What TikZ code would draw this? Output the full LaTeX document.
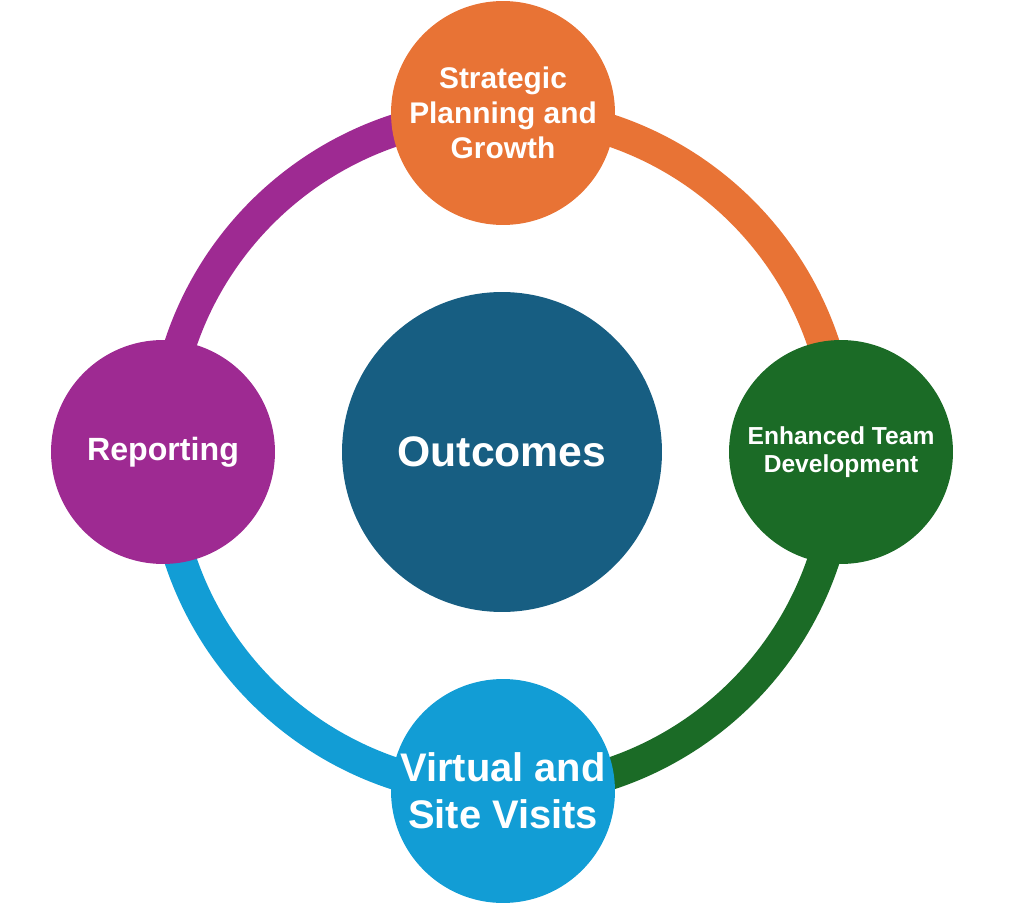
\documentclass[tikz,border=0pt]{standalone}
\usepackage{fontspec}
\setmainfont{Liberation Sans}
\usetikzlibrary{backgrounds}
\definecolor{cOrange}{HTML}{E87335}
\definecolor{cGreen}{HTML}{1B6B26}
\definecolor{cBlue}{HTML}{129DD5}
\definecolor{cPurple}{HTML}{9E2A92}
\definecolor{cNavy}{HTML}{175E82}
\begin{document}
\begin{tikzpicture}[x=0.02cm, y=-0.02cm,
  stage/.style={circle, inner sep=0pt, minimum size=4.48cm, text=white, font=\bfseries, align=center},
  ring/.style={line width=0.64cm}]
\useasboundingbox (0,0) rectangle (1020,915);
\node[circle, fill=cNavy, inner sep=0pt, minimum size=6.4cm, text=white, font=\fontsize{24.3}{29}\bfseries] (out) at (502,452) {Outcomes};
\node[stage, fill=cOrange, font=\fontsize{17}{20}\bfseries] (S_top) at (503,113) {Strategic\\Planning and\\Growth};
\node[stage, fill=cGreen, font=\fontsize{14}{15.9}\bfseries] (S_right) at (841,452) {Enhanced Team\\Development};
\node[stage, fill=cBlue, font=\fontsize{22.7}{26.7}\bfseries] (S_bottom) at (503,791) {Virtual and\\Site Visits};
\node[stage, fill=cPurple, font=\fontsize{18.3}{22}\bfseries] (S_left) at (163,452) {Reporting};
\begin{scope}[on background layer]
\draw[ring, cOrange] (S_top.center) to[out=0, in=90] (S_right.center);
\draw[ring, cGreen] (S_right.center) to[out=-90, in=0] (S_bottom.center);
\draw[ring, cBlue] (S_bottom.center) to[out=180, in=-90] (S_left.center);
\draw[ring, cPurple] (S_left.center) to[out=90, in=180] (S_top.center);
\end{scope}
\end{tikzpicture}
\end{document}
